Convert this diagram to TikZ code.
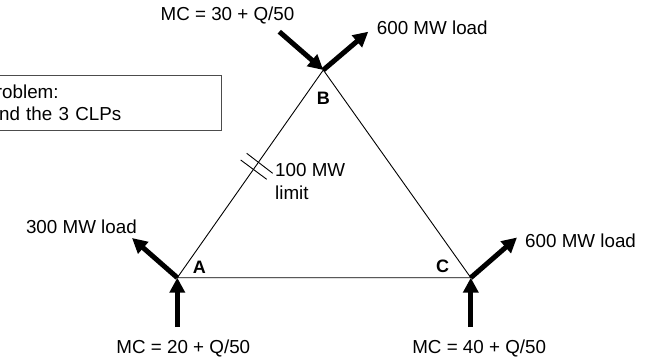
\documentclass[tikz,border=0pt]{standalone}
\usepackage{fontspec}
\setmainfont{Liberation Sans}
\usetikzlibrary{arrows.meta,calc}
\begin{document}
\begin{tikzpicture}[x=1pt,y=-1pt,
  txt/.style={font=\fontsize{18.8pt}{23pt}\selectfont, inner sep=0pt},
  vlabel/.style={font=\fontsize{18pt}{21pt}\selectfont\bfseries, inner sep=0pt},
  edge/.style={line width=0.9pt},
  flow/.style={line width=5pt, -{Triangle[length=15pt,width=15pt]}},
  hash/.style={line width=0.9pt}]
\useasboundingbox (0,0) rectangle (648,361);
\clip (0,0) rectangle (648,361);
% vertices
\coordinate (A) at (177.3,277.7);
\coordinate (B) at (323.3,70);
\coordinate (C) at (470.8,277.7);
% free ends of flows
\coordinate (Agen) at (177.3,327);
\coordinate (Aload) at (132,238);
\coordinate (Cgen) at (470.8,327);
\coordinate (Cload) at (517,237.5);
\coordinate (Bgen) at (279.3,31.7);
\coordinate (Bload) at (368.3,31.7);
% triangle
\draw[edge] (A) -- (B) -- (C) -- (A);
% flows
\draw[flow] (Agen) -- (A);
\draw[flow] (A) -- (Aload);
\draw[flow] (Cgen) -- (C);
\draw[flow] (C) -- (Cload);
\draw[flow] (Bgen) -- (B);
\draw[flow] (B) -- (Bload);
% vertex labels
\node[vlabel] (la) at (199.3,267.3) {A};
\node[vlabel] (lb) at (323.3,98) {B};
\node[vlabel] (lc) at (442.7,266) {C};
% limit hash marks
\coordinate (h1a) at (246.7,153.3);
\coordinate (h1b) at (272.7,173.3);
\coordinate (h2a) at (240.7,160);
\coordinate (h2b) at (266.7,179.3);
\draw[hash] (h1a) -- (h1b);
\draw[hash] (h2a) -- (h2b);
\node[txt, align=left, anchor=west] (lim) at (275,181.5) {100 MW\\limit};
% texts
\node[txt] (mcb) at (227.5,15) {MC = 30 + Q/50};
\node[txt, anchor=west] (ldb) at (376.7,28) {600 MW load};
\node[txt, anchor=east] (lda) at (137,227) {300 MW load};
\node[txt, anchor=west] (ldc) at (525,240.7) {600 MW load};
\node[txt] (mca) at (183.3,348) {MC = 20 + Q/50};
\node[txt] (mcc) at (479.2,348) {MC = 40 + Q/50};
% problem box
\node[draw=black!70, line width=0.8pt, anchor=north west, minimum height=55pt,
      text width=227pt, inner xsep=11pt, inner ysep=4pt, align=left,
      font=\fontsize{18.8pt}{21.5pt}\selectfont] (prob) at (-28,75)
      {Problem:\\Find the 3 CLPs};
\end{tikzpicture}
\end{document}
